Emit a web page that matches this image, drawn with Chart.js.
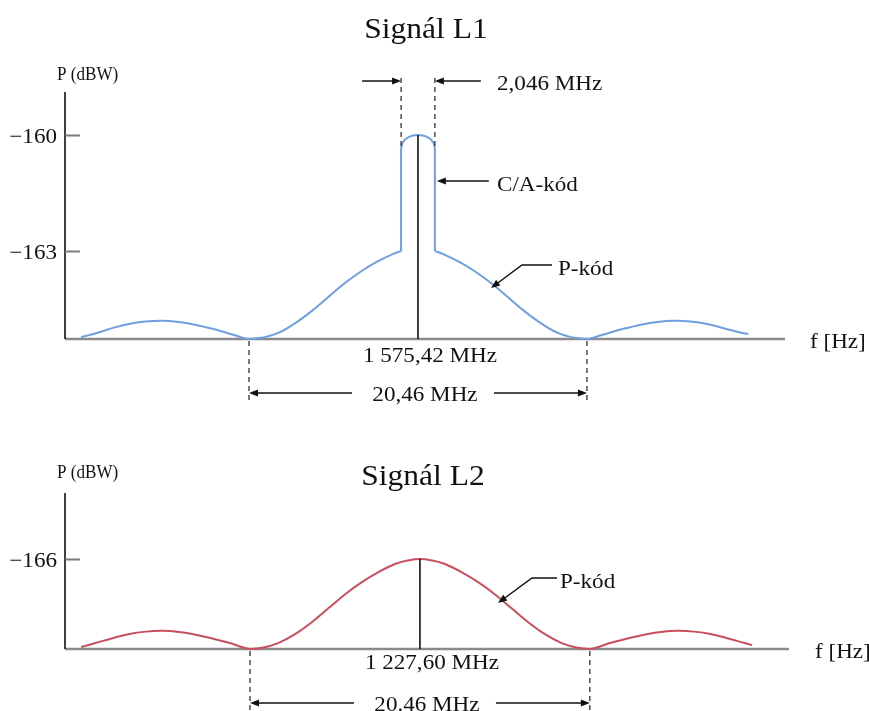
<!DOCTYPE html>
<html>
<head>
<meta charset="utf-8">
<script src="https://cdn.jsdelivr.net/npm/chart.js@4/dist/chart.umd.min.js"></script>
<style>
  html, body { margin: 0; padding: 0; background: #fff; }
  #wrap { position: relative; width: 869px; height: 711px; overflow: hidden; }
  #wrap canvas { position: absolute; left: 0; top: 0; }
</style>
</head>
<body>
<div id="wrap">
  <canvas id="l1" width="869" height="711"></canvas>
  <canvas id="l2" width="869" height="711"></canvas>
</div>
<script>
// ---- Signal L1: offset from carrier (MHz) and power (dBW) ----
const l1PLeftMHz  = [-20.4, -19.5, -18.5, -17.5, -16.5, -15.5, -14.5, -13.5, -12.5, -11.5, -10.8, -10.23, -9.5, -8.5, -7.5, -6.5, -5.5, -4.5, -3.5, -2.5, -1.5, -1.023];
const l1PLeftDbw  = [-165.22, -165.12, -164.99, -164.88, -164.82, -164.80, -164.83, -164.90, -165.00, -165.12, -165.21, -165.27, -165.24, -165.12, -164.88, -164.57, -164.21, -163.85, -163.54, -163.28, -163.07, -163.00];
const l1PRightMHz = [1.023, 1.5, 2.5, 3.5, 4.5, 5.5, 6.5, 7.5, 8.5, 9.5, 10.23, 10.8, 11.5, 12.5, 13.5, 14.5, 15.5, 16.5, 17.5, 18.5, 19.5, 20.0];
const l1PRightDbw = [-163.00, -163.07, -163.28, -163.54, -163.85, -164.21, -164.57, -164.88, -165.12, -165.24, -165.27, -165.21, -165.12, -165.00, -164.90, -164.83, -164.80, -164.82, -164.88, -164.99, -165.10, -165.14];
const l1CaMHz = [-1.023, -1.023, -0.95, -0.8, -0.55, -0.3, 0, 0.3, 0.55, 0.8, 0.95, 1.023, 1.023];
const l1CaDbw = [-163.00, -160.35, -160.21, -160.12, -160.05, -160.015, -160.00, -160.015, -160.05, -160.12, -160.21, -160.35, -163.00];
const l1TickValues = [-160, -163];
const l1TickLabels = ['\u2212160', '\u2212163'];
const l1PeakDbw = -160;

// ---- Signal L2 ----
const l2MHz = [-20.4, -19.5, -18.5, -17.5, -16.5, -15.5, -14.5, -13.5, -12.5, -11.5, -10.8, -10.23, -9.5, -8.5, -7.5, -6.5, -5.5, -4.5, -3.5, -2.5, -1.5, -0.75, 0,
               0.75, 1.5, 2.5, 3.5, 4.5, 5.5, 6.5, 7.5, 8.5, 9.5, 10.23, 10.8, 11.5, 12.5, 13.5, 14.5, 15.5, 16.5, 17.5, 18.5, 19.5, 20.0];
const l2Dbw = [-168.28, -168.17, -168.05, -167.94, -167.88, -167.86, -167.89, -167.96, -168.06, -168.17, -168.27, -168.33, -168.30, -168.17, -167.94, -167.63, -167.27, -166.91, -166.60, -166.34, -166.13, -166.04, -166.00,
               -166.04, -166.13, -166.34, -166.60, -166.91, -167.27, -167.63, -167.94, -168.17, -168.30, -168.33, -168.27, -168.17, -168.06, -167.96, -167.89, -167.86, -167.88, -167.94, -168.05, -168.17, -168.23];
const l2TickValues = [-166];
const l2TickLabels = ['\u2212166'];
const l2PeakDbw = -166;

// Main-lobe null-to-null width and C/A-code band half width (MHz)
const nullHalfWidth = 10.23;
const caHalfWidth = 1.023;

// Axis ranges
const X_MIN = -21.37, X_MAX = 22.22;
const L1_MIN = -165.27, L1_MAX = -158.89;
const L2_MIN = -168.33, L2_MAX = -164.29;

const BLUE = '#6e9fe0';
const RED = '#c8505e';
const SERIF = '"Liberation Serif", "Times New Roman", "DejaVu Serif", serif';

const pts = (xs, ys) => xs.map((x, i) => ({ x, y: ys[i] }));

function text(ctx, str, x, y, size, align, sx) {
  ctx.save();
  ctx.font = size + 'px ' + SERIF;
  ctx.fillStyle = '#111';
  ctx.textAlign = align || 'left';
  ctx.textBaseline = 'alphabetic';
  ctx.translate(x, y);
  ctx.scale(sx || 1, 1);
  ctx.fillText(str, 0, 0);
  ctx.restore();
}

function arrow(ctx, path) {
  ctx.save();
  ctx.strokeStyle = '#111';
  ctx.fillStyle = '#111';
  ctx.lineWidth = 1.5;
  const n = path.length;
  const [x1, y1] = path[n - 2], [x2, y2] = path[n - 1];
  const a = Math.atan2(y2 - y1, x2 - x1), L = 9, W = 3.5;
  ctx.beginPath();
  ctx.moveTo(path[0][0], path[0][1]);
  for (let i = 1; i < n - 1; i++) ctx.lineTo(path[i][0], path[i][1]);
  ctx.lineTo(x2 - (L - 1) * Math.cos(a), y2 - (L - 1) * Math.sin(a));
  ctx.stroke();
  ctx.beginPath();
  ctx.moveTo(x2, y2);
  ctx.lineTo(x2 - L * Math.cos(a) + W * Math.sin(a), y2 - L * Math.sin(a) - W * Math.cos(a));
  ctx.lineTo(x2 - L * Math.cos(a) - W * Math.sin(a), y2 - L * Math.sin(a) + W * Math.cos(a));
  ctx.closePath();
  ctx.fill();
  ctx.restore();
}

function dashed(ctx, x, yA, yB) {
  ctx.save();
  ctx.strokeStyle = '#222';
  ctx.lineWidth = 1.2;
  ctx.setLineDash([5, 4]);
  ctx.beginPath();
  ctx.moveTo(x, yA);
  ctx.lineTo(x, yB);
  ctx.stroke();
  ctx.restore();
}

// Axes, tick marks and labels shared by both panels
const frame = {
  id: 'frame',
  beforeDatasetsDraw(chart, args, o) {
    const { ctx, chartArea: ca, scales: { y } } = chart;
    ctx.save();
    ctx.strokeStyle = '#8a8a8a';
    ctx.lineWidth = 2.5;
    ctx.beginPath();
    ctx.moveTo(ca.left, ca.bottom);
    ctx.lineTo(ca.right, ca.bottom);
    ctx.stroke();
    ctx.strokeStyle = '#111';
    ctx.lineWidth = 1.6;
    ctx.beginPath();
    ctx.moveTo(ca.left, ca.top);
    ctx.lineTo(ca.left, ca.bottom);
    ctx.stroke();
    ctx.strokeStyle = '#7a7a7a';
    ctx.lineWidth = 2;
    o.ticks.forEach((v, i) => {
      const py = Math.round(y.getPixelForValue(v)) + 0.5;
      ctx.beginPath();
      ctx.moveTo(ca.left, py);
      ctx.lineTo(ca.left + 15, py);
      ctx.stroke();
      text(ctx, o.tickLabels[i], ca.left - 8, py + 7, 21, 'right', 1.1);
    });
    ctx.restore();
  },
  afterDraw(chart, args, o) {
    const { ctx, chartArea: ca, scales: { x } } = chart;
    const xc = x.getPixelForValue(0);
    const xl = x.getPixelForValue(-nullHalfWidth);
    const xr = x.getPixelForValue(nullHalfWidth);
    text(ctx, o.title, o.titleX, o.titleY, 30, 'center', 1.05);
    text(ctx, 'P (dBW)', 57, o.unitY, 18, 'left', 0.95);
    text(ctx, 'f [Hz]', o.fX, ca.bottom + 9, 21, 'left', 1.1);
    text(ctx, o.carrier, xc + 12, ca.bottom + o.carrierDy, 21, 'center', 1.1);
    // null-to-null span
    dashed(ctx, xl, ca.bottom + 2, ca.bottom + 64);
    dashed(ctx, xr, ca.bottom + 2, ca.bottom + 64);
    const ya = ca.bottom + 54;
    arrow(ctx, [[xc - 66, ya], [xl, ya]]);
    arrow(ctx, [[xc + 76, ya], [xr, ya]]);
    text(ctx, o.span, xc + 7, ya + 8, 21, 'center', 1.1);
    // P-code pointer
    arrow(ctx, o.pPath);
    text(ctx, 'P-kód', o.pLabel[0], o.pLabel[1], 21, 'left', 1.1);
    if (o.extra) o.extra(chart);
  }
};

function caAnnotations(chart) {
  const { ctx, scales: { x, y } } = chart;
  const xa = x.getPixelForValue(-caHalfWidth);
  const xb = x.getPixelForValue(caHalfWidth);
  const yTop = y.getPixelForValue(-160.35);
  dashed(ctx, xa, 78, yTop - 2);
  dashed(ctx, xb, 78, yTop - 2);
  arrow(ctx, [[xa - 39, 81], [xa, 81]]);
  arrow(ctx, [[xb + 46, 81], [xb, 81]]);
  text(ctx, '2,046 MHz', 497, 90, 21, 'left', 1.1);
  arrow(ctx, [[xb + 54, 181], [xb + 2, 181]]);
  text(ctx, 'C/A-kód', 497, 191, 21, 'left', 1.1);
}

function baseOptions(padding, yMin, yMax, frameOpts) {
  return {
    responsive: false,
    animation: false,
    devicePixelRatio: 1,
    layout: { padding },
    plugins: { legend: { display: false }, tooltip: { enabled: false }, frame: frameOpts },
    scales: {
      x: { type: 'linear', min: X_MIN, max: X_MAX, display: false },
      y: { type: 'linear', min: yMin, max: yMax, display: false }
    }
  };
}

const lineStyle = (color, width) => ({ borderColor: color, borderWidth: width, pointRadius: 0, fill: false, clip: false });

new Chart(document.getElementById('l1'), {
  type: 'line',
  data: {
    datasets: [
      { label: 'f0', data: [{ x: 0, y: L1_MIN }, { x: 0, y: l1PeakDbw }], ...lineStyle('#111', 1.6), tension: 0 },
      { label: 'P-kód', data: pts(l1PLeftMHz, l1PLeftDbw), ...lineStyle(BLUE, 2), tension: 0.4 },
      { label: 'C/A-kód', data: pts(l1CaMHz, l1CaDbw), ...lineStyle(BLUE, 2), tension: 0 },
      { label: 'P-kód', data: pts(l1PRightMHz, l1PRightDbw), ...lineStyle(BLUE, 2), tension: 0.4 }
    ]
  },
  options: baseOptions({ left: 65, right: 84, top: 92, bottom: 372 }, L1_MIN, L1_MAX, {
    ticks: l1TickValues, tickLabels: l1TickLabels,
    title: 'Signál L1', titleX: 426, titleY: 38, unitY: 80, fX: 810,
    carrier: '1 575,42 MHz', carrierDy: 23, span: '20,46 MHz',
    pPath: [[552, 265], [522, 265], [491, 288]], pLabel: [558, 275],
    extra: caAnnotations
  }),
  plugins: [frame]
});

new Chart(document.getElementById('l2'), {
  type: 'line',
  data: {
    datasets: [
      { label: 'f0', data: [{ x: 0, y: L2_MIN }, { x: 0, y: l2PeakDbw }], ...lineStyle('#111', 1.6), tension: 0 },
      { label: 'P-kód', data: pts(l2MHz, l2Dbw), ...lineStyle(RED, 2), tension: 0.4 }
    ]
  },
  options: baseOptions({ left: 65, right: 80, top: 493, bottom: 62 }, L2_MIN, L2_MAX, {
    ticks: l2TickValues, tickLabels: l2TickLabels,
    title: 'Signál L2', titleX: 423, titleY: 485, unitY: 478, fX: 815,
    carrier: '1 227,60 MHz', carrierDy: 20, span: '20.46 MHz',
    pPath: [[557, 578], [532, 578], [498, 603]], pLabel: [560, 588]
  }),
  plugins: [frame]
});
</script>
</body>
</html>
